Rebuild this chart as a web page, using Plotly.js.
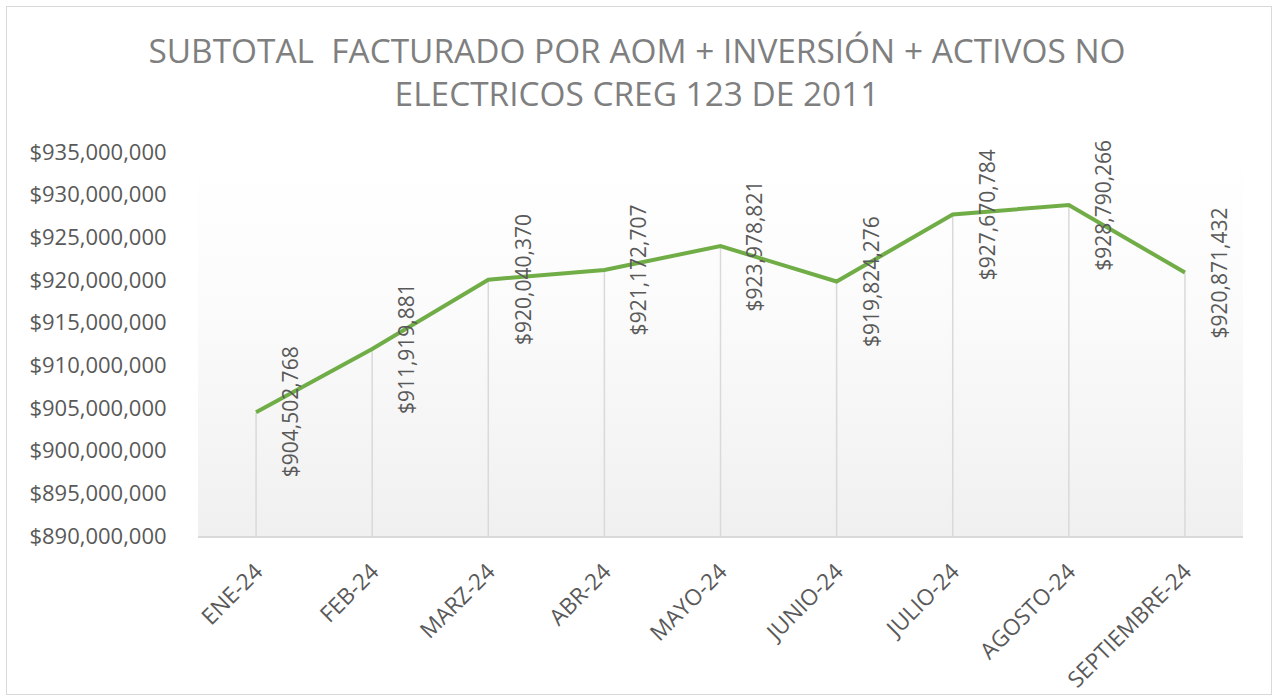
<!DOCTYPE html>
<html>
<head>
<meta charset="utf-8">
<script src="https://cdn.plot.ly/plotly-3.0.1.min.js"></script>
<style>
  html, body { margin: 0; padding: 0; background: #ffffff; }
  #wrap { position: relative; width: 1274px; height: 698px; }
  #bg { position: absolute; left: 198px; top: 152px; width: 1045px; height: 384px;
        background: linear-gradient(to bottom, #ffffff 0%, #fbfbfb 40%, #f0f0f0 100%); }
  #frame { position: absolute; left: 6px; top: 6px; width: 1264px; height: 687px;
        border: 1px solid #d9d9d9; }
  #chart { position: absolute; left: 0; top: 0; width: 1274px; height: 698px; }
</style>
</head>
<body>
<div id="wrap">
  <div id="bg"></div>
  <div id="frame"></div>
  <div id="chart"></div>
</div>
<script>
const months = ["ENE-24", "FEB-24", "MARZ-24", "ABR-24", "MAYO-24", "JUNIO-24", "JULIO-24", "AGOSTO-24", "SEPTIEMBRE-24"];
const subtotal = [904502768, 911919881, 920040370, 921172707, 923978821, 919824276, 927670784, 928790266, 920871432];
const yMin = 890000000;
const yMax = 935000000;
const yStep = 5000000;

const fmt = v => "$" + v.toLocaleString("en-US");

const trace = {
  type: "scatter",
  mode: "lines",
  x: months,
  y: subtotal,
  line: { color: "#70ad47", width: 4 },
  error_y: {
    type: "data",
    symmetric: false,
    array: subtotal.map(() => 0),
    arrayminus: subtotal.map(v => v - yMin),
    width: 0,
    thickness: 1.5,
    color: "#d9d9d9"
  },
  hoverinfo: "skip"
};

const annotations = months.map((m, i) => ({
  x: m,
  y: subtotal[i],
  xref: "x",
  yref: "y",
  text: fmt(subtotal[i]),
  showarrow: false,
  textangle: -90,
  xanchor: "center",
  yanchor: "middle",
  xshift: 34,
  font: { family: "Open Sans", size: 21, color: "#595959" }
}));

const layout = {
  width: 1274,
  height: 698,
  margin: { l: 198, r: 31, t: 152, b: 162 },
  paper_bgcolor: "rgba(0,0,0,0)",
  plot_bgcolor: "rgba(0,0,0,0)",
  showlegend: false,
  hovermode: false,
  title: {
    text: "SUBTOTAL&nbsp; FACTURADO POR AOM + INVERSIÓN + ACTIVOS NO<br>ELECTRICOS CREG 123 DE 2011",
    font: { family: "Open Sans", size: 33.4, color: "#7f7f7f" },
    x: 0.5,
    xanchor: "center",
    xref: "container",
    y: 1 - 63 / 698,
    yanchor: "top",
    yref: "container"
  },
  xaxis: {
    type: "category",
    range: [-0.5, months.length - 0.5],
    showgrid: false,
    zeroline: false,
    showline: true,
    linecolor: "#d9d9d9",
    linewidth: 1.5,
    ticks: "outside",
    ticklen: 12,
    tickcolor: "rgba(0,0,0,0)",
    tickangle: -45,
    tickfont: { family: "Open Sans", size: 22.5, color: "#595959" }
  },
  yaxis: {
    range: [yMin, yMax],
    dtick: yStep,
    tick0: yMin,
    showgrid: false,
    zeroline: false,
    showline: false,
    ticks: "outside",
    ticklen: 26,
    tickcolor: "rgba(0,0,0,0)",
    tickprefix: "$",
    tickformat: ",.0f",
    tickfont: { family: "Open Sans", size: 22, color: "#595959" }
  },
  annotations: annotations
};

Plotly.newPlot("chart", [trace], layout, { displayModeBar: false, staticPlot: true });
</script>
</body>
</html>
